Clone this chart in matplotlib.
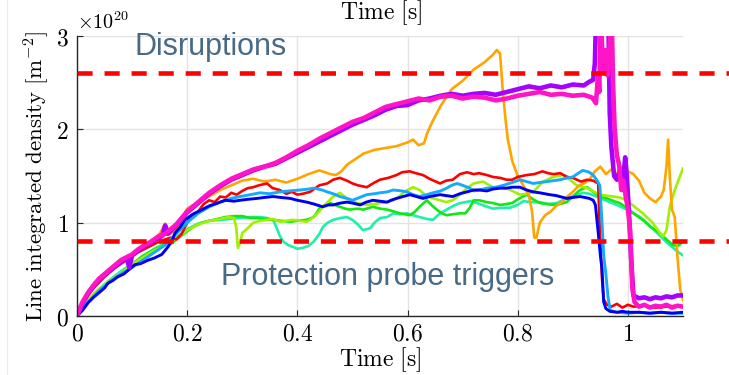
import matplotlib
matplotlib.use("Agg")
import matplotlib.pyplot as plt
from matplotlib.lines import Line2D

plt.rcParams['mathtext.fontset'] = 'cm'

# ---------------- data (line integrated density, units of 1e20 m^-2) ----------------
t_magenta = [0, 0.005, 0.01, 0.02, 0.03, 0.04, 0.05, 0.06, 0.07, 0.08, 0.09, 0.10, 0.11, 0.12, 0.13, 0.14,
             0.15, 0.16, 0.17, 0.18, 0.19, 0.20, 0.22, 0.24, 0.26, 0.28, 0.30, 0.32, 0.34, 0.36, 0.38, 0.40,
             0.42, 0.44, 0.46, 0.48, 0.50, 0.52, 0.54, 0.56, 0.58, 0.60, 0.62, 0.64, 0.66, 0.68, 0.70, 0.72,
             0.74, 0.76, 0.78, 0.80, 0.82, 0.84, 0.86, 0.88, 0.90, 0.92, 0.935, 0.942, 0.946, 0.948, 0.951,
             0.954, 0.957, 0.960, 0.963, 0.967, 0.970, 0.973, 0.976, 0.980, 0.984, 0.988, 0.992, 0.996, 1.0,
             1.004, 1.008, 1.012, 1.02, 1.03, 1.04, 1.05, 1.06, 1.07, 1.08, 1.09, 1.1]
y_magenta = [0, 0.08, 0.15, 0.25, 0.33, 0.40, 0.45, 0.50, 0.55, 0.60, 0.63, 0.66, 0.71, 0.75, 0.78, 0.82,
             0.86, 0.88, 0.93, 0.98, 1.05, 1.12, 1.22, 1.32, 1.40, 1.47, 1.52, 1.57, 1.60, 1.64, 1.70, 1.77,
             1.83, 1.90, 1.96, 2.02, 2.08, 2.12, 2.18, 2.24, 2.27, 2.30, 2.33, 2.31, 2.35, 2.36, 2.33, 2.35,
             2.34, 2.31, 2.33, 2.36, 2.38, 2.40, 2.37, 2.38, 2.36, 2.37, 2.34, 2.28, 2.60, 2.40, 3.30,
             2.70, 2.62, 2.85, 2.58, 2.90, 3.40, 2.50, 2.00, 1.72, 1.62, 1.35, 1.45, 1.28, 1.15,
             0.92, 0.30, 0.15, 0.10, 0.12, 0.09, 0.11, 0.10, 0.12, 0.09, 0.11, 0.10]

t_purple = [0, 0.01, 0.02, 0.04, 0.06, 0.08, 0.09, 0.095, 0.10, 0.12, 0.14, 0.155, 0.16, 0.165, 0.18, 0.20,
            0.22, 0.24, 0.26, 0.28, 0.30, 0.32, 0.34, 0.36, 0.38, 0.40, 0.42, 0.44, 0.46, 0.48, 0.50, 0.52,
            0.54, 0.56, 0.58, 0.60, 0.62, 0.64, 0.66, 0.68, 0.70, 0.72, 0.74, 0.76, 0.78, 0.80, 0.82, 0.84,
            0.86, 0.88, 0.90, 0.92, 0.93, 0.937, 0.940, 0.943, 0.955, 0.964, 0.967, 0.970, 0.975, 0.980,
            0.985, 0.990, 0.995, 0.998, 1.002, 1.006, 1.01, 1.02, 1.03, 1.04, 1.05, 1.06, 1.07, 1.08, 1.09, 1.1]
y_purple = [0, 0.14, 0.24, 0.39, 0.49, 0.58, 0.62, 0.52, 0.65, 0.74, 0.81, 0.86, 0.97, 0.88, 0.97, 1.11,
            1.21, 1.31, 1.39, 1.46, 1.51, 1.56, 1.60, 1.63, 1.69, 1.75, 1.81, 1.87, 1.93, 1.99, 2.05, 2.10,
            2.15, 2.21, 2.25, 2.26, 2.31, 2.33, 2.36, 2.38, 2.36, 2.38, 2.39, 2.37, 2.40, 2.43, 2.46, 2.44,
            2.47, 2.45, 2.48, 2.47, 2.51, 2.53, 2.71, 3.40, 3.50, 3.40, 2.18, 1.81, 1.50, 1.46,
            1.55, 1.35, 1.70, 1.50, 1.10, 0.60, 0.22, 0.19, 0.20, 0.18, 0.20, 0.19, 0.21, 0.20, 0.22, 0.22]

t_orange = [0, 0.01, 0.02, 0.03, 0.05, 0.07, 0.09, 0.11, 0.13, 0.15, 0.16, 0.17, 0.18, 0.19, 0.20, 0.22,
            0.24, 0.26, 0.28, 0.30, 0.32, 0.34, 0.36, 0.38, 0.40, 0.42, 0.44, 0.46, 0.47, 0.48, 0.49, 0.50,
            0.52, 0.54, 0.56, 0.58, 0.60, 0.61, 0.62, 0.63, 0.635, 0.645, 0.66, 0.68, 0.70, 0.72, 0.74,
            0.755, 0.762, 0.768, 0.773, 0.778, 0.782, 0.786, 0.79, 0.80, 0.81, 0.82, 0.826, 0.83, 0.834,
            0.84, 0.85, 0.86, 0.87, 0.88, 0.89, 0.90, 0.91, 0.92, 0.93, 0.94, 0.95, 0.96, 0.97, 0.98, 0.99,
            1.00, 1.01, 1.02, 1.03, 1.04, 1.05, 1.06, 1.065, 1.07, 1.073, 1.076, 1.08, 1.085, 1.09, 1.095, 1.1]
y_orange = [0, 0.12, 0.22, 0.30, 0.43, 0.54, 0.63, 0.70, 0.78, 0.88, 0.99, 0.88, 0.93, 1.04, 1.15, 1.22,
            1.28, 1.35, 1.40, 1.45, 1.47, 1.44, 1.46, 1.43, 1.47, 1.52, 1.56, 1.52, 1.51, 1.55, 1.62, 1.66,
            1.74, 1.78, 1.80, 1.82, 1.86, 1.89, 1.83, 1.85, 1.95, 2.08, 2.25, 2.43, 2.52, 2.64, 2.72,
            2.80, 2.85, 2.81, 2.40, 2.10, 1.89, 1.78, 1.66, 1.50, 1.40, 1.30, 1.12, 0.84, 0.84,
            1.00, 1.08, 1.12, 1.18, 1.22, 1.28, 1.33, 1.39, 1.42, 1.46, 1.55, 1.60, 1.52, 1.57, 1.52, 1.60,
            1.55, 1.52, 1.45, 1.32, 1.26, 1.22, 1.28, 1.35, 1.60, 1.89, 1.50, 1.14, 1.06, 0.63, 0.28, 0.17]

t_red = [0, 0.01, 0.02, 0.03, 0.05, 0.07, 0.09, 0.11, 0.13, 0.15, 0.17, 0.18, 0.19, 0.20, 0.21, 0.22, 0.23,
         0.24, 0.25, 0.26, 0.27, 0.28, 0.29, 0.30, 0.31, 0.32, 0.33, 0.345, 0.355, 0.368, 0.38, 0.39, 0.40,
         0.41, 0.423, 0.44, 0.454, 0.465, 0.477, 0.49, 0.50, 0.51, 0.526, 0.54, 0.55, 0.565, 0.58, 0.59,
         0.604, 0.615, 0.628, 0.64, 0.659, 0.67, 0.682, 0.695, 0.708, 0.72, 0.73, 0.744, 0.755, 0.768, 0.78,
         0.79, 0.80, 0.816, 0.83, 0.845, 0.855, 0.865, 0.877, 0.89, 0.90, 0.915, 0.926, 0.937, 0.946, 0.949,
         0.953, 0.956, 0.962, 0.97, 0.98, 0.99, 1.0, 1.01, 1.03, 1.05, 1.07, 1.09, 1.1]
y_red = [0, 0.12, 0.22, 0.30, 0.42, 0.52, 0.60, 0.68, 0.74, 0.80, 0.84, 0.82, 0.88, 1.00, 1.08, 1.12, 1.20,
         1.24, 1.22, 1.28, 1.27, 1.32, 1.30, 1.34, 1.37, 1.38, 1.40, 1.42, 1.37, 1.35, 1.31, 1.33, 1.30,
         1.31, 1.33, 1.40, 1.42, 1.46, 1.48, 1.45, 1.42, 1.40, 1.38, 1.43, 1.46, 1.48, 1.51, 1.54,
         1.55, 1.53, 1.51, 1.47, 1.42, 1.45, 1.46, 1.52, 1.54, 1.52, 1.53, 1.51, 1.49, 1.48, 1.46,
         1.46, 1.49, 1.51, 1.52, 1.55, 1.53, 1.52, 1.53, 1.49, 1.48, 1.44, 1.46, 1.45, 1.42, 0.92,
         0.40, 0.18, 0.12, 0.10, 0.13, 0.09, 0.12, 0.10, 0.11, 0.09, 0.10, 0.11, 0.10]

t_cyan = [0, 0.01, 0.02, 0.04, 0.06, 0.08, 0.10, 0.12, 0.14, 0.16, 0.18, 0.20, 0.22, 0.24, 0.26, 0.28, 0.296,
          0.315, 0.332, 0.35, 0.368, 0.385, 0.405, 0.42, 0.43, 0.445, 0.454, 0.465, 0.477, 0.49, 0.50, 0.513,
          0.526, 0.54, 0.55, 0.563, 0.574, 0.59, 0.599, 0.61, 0.622, 0.635, 0.646, 0.66, 0.671, 0.68, 0.69,
          0.70, 0.713, 0.72, 0.73, 0.744, 0.76, 0.774, 0.79, 0.804, 0.816, 0.828, 0.84, 0.853, 0.865, 0.877,
          0.89, 0.90, 0.91, 0.918, 0.925, 0.93, 0.937, 0.943, 0.949, 0.953, 0.956, 0.96, 0.964, 0.968, 0.98,
          1.0, 1.02, 1.04, 1.06, 1.08, 1.1]
y_cyan = [0, 0.08, 0.15, 0.27, 0.37, 0.45, 0.52, 0.60, 0.68, 0.76, 0.88, 1.00, 1.10, 1.17, 1.22, 1.26, 1.28,
          1.30, 1.32, 1.31, 1.33, 1.34, 1.35, 1.36, 1.37, 1.35, 1.33, 1.31, 1.28, 1.26, 1.24, 1.27,
          1.30, 1.31, 1.32, 1.33, 1.35, 1.34, 1.33, 1.30, 1.28, 1.30, 1.32, 1.34, 1.37, 1.40, 1.42,
          1.40, 1.37, 1.34, 1.35, 1.37, 1.38, 1.40, 1.43, 1.46, 1.44, 1.42, 1.43, 1.44, 1.45, 1.46,
          1.48, 1.49, 1.53, 1.56, 1.55, 1.54, 1.51, 1.46, 1.40, 1.00, 0.65, 0.45, 0.20, 0.06, 0.04,
          0.03, 0.04, 0.03, 0.04, 0.03, 0.03]

t_blue = [0, 0.005, 0.01, 0.02, 0.03, 0.04, 0.05, 0.056, 0.065, 0.074, 0.085, 0.095, 0.105, 0.115, 0.13, 0.14,
          0.154, 0.165, 0.172, 0.178, 0.187, 0.196, 0.21, 0.227, 0.24, 0.255, 0.269, 0.285, 0.296, 0.31, 0.327,
          0.34, 0.356, 0.37, 0.387, 0.40, 0.417, 0.43, 0.446, 0.456, 0.465, 0.478, 0.49, 0.50, 0.514, 0.525,
          0.537, 0.55, 0.563, 0.57, 0.58, 0.592, 0.604, 0.616, 0.628, 0.64, 0.659, 0.67, 0.682, 0.695, 0.708,
          0.72, 0.73, 0.744, 0.755, 0.768, 0.78, 0.79, 0.804, 0.816, 0.828, 0.84, 0.858, 0.87, 0.889, 0.90,
          0.913, 0.93, 0.937, 0.941, 0.946, 0.95, 0.953, 0.956, 0.96, 0.967, 0.98, 0.99, 1.0, 1.02, 1.04,
          1.06, 1.08, 1.1]
y_blue = [0, 0.03, 0.06, 0.14, 0.20, 0.25, 0.30, 0.35, 0.38, 0.42, 0.45, 0.50, 0.55, 0.56, 0.60, 0.62,
          0.66, 0.74, 0.80, 0.89, 0.95, 1.03, 1.09, 1.14, 1.18, 1.21, 1.24, 1.23, 1.24, 1.25, 1.26,
          1.27, 1.28, 1.27, 1.26, 1.24, 1.22, 1.20, 1.17, 1.19, 1.19, 1.21, 1.22, 1.21, 1.19, 1.22,
          1.24, 1.23, 1.22, 1.24, 1.26, 1.28, 1.30, 1.28, 1.26, 1.28, 1.30, 1.29, 1.28, 1.31, 1.33,
          1.35, 1.35, 1.34, 1.36, 1.37, 1.37, 1.38, 1.38, 1.35, 1.33, 1.32, 1.30, 1.29, 1.26, 1.27,
          1.28, 1.26, 1.24, 1.19, 0.90, 0.65, 0.50, 0.15, 0.08, 0.05, 0.04, 0.05, 0.04, 0.04, 0.03,
          0.04, 0.03, 0.04]

t_green = [0, 0.01, 0.02, 0.04, 0.06, 0.08, 0.10, 0.118, 0.13, 0.147, 0.16, 0.172, 0.185, 0.196, 0.21, 0.227,
           0.24, 0.255, 0.269, 0.285, 0.30, 0.315, 0.327, 0.34, 0.356, 0.37, 0.387, 0.40, 0.417, 0.43, 0.44,
           0.45, 0.459, 0.468, 0.477, 0.487, 0.495, 0.51, 0.52, 0.537, 0.55, 0.563, 0.575, 0.586, 0.595, 0.604,
           0.612, 0.622, 0.635, 0.645, 0.653, 0.662, 0.671, 0.682, 0.695, 0.705, 0.713, 0.72, 0.73, 0.744,
           0.755, 0.768, 0.78, 0.79, 0.80, 0.816, 0.828, 0.84, 0.853, 0.864, 0.877, 0.889, 0.90, 0.913, 0.926,
           0.937, 0.95, 0.962, 0.975, 0.985, 0.998, 1.01, 1.027, 1.04, 1.058, 1.07, 1.082, 1.09, 1.095, 1.1]
y_green = [0, 0.09, 0.16, 0.28, 0.37, 0.45, 0.55, 0.64, 0.68, 0.73, 0.77, 0.78, 0.84, 0.89, 0.95, 1.00,
           1.02, 1.04, 1.06, 1.07, 1.07, 1.05, 1.05, 1.04, 1.03, 1.02, 1.01, 1.02, 1.03, 1.06, 1.15,
           1.19, 1.21, 1.19, 1.17, 1.15, 1.14, 1.15, 1.14, 1.17, 1.15, 1.14, 1.12, 1.10, 1.09, 1.08,
           1.11, 1.17, 1.24, 1.18, 1.14, 1.10, 1.08, 1.09, 1.10, 1.10, 1.16, 1.24, 1.24, 1.22,
           1.21, 1.19, 1.20, 1.21, 1.25, 1.30, 1.25, 1.21, 1.20, 1.19, 1.20, 1.22, 1.28, 1.35, 1.38,
           1.33, 1.28, 1.26, 1.23, 1.21, 1.16, 1.10, 1.03, 0.96, 0.89, 0.82, 0.76, 0.75, 0.77, 0.80]

t_aqua = [0, 0.01, 0.02, 0.04, 0.06, 0.08, 0.10, 0.12, 0.14, 0.16, 0.18, 0.20, 0.22, 0.24, 0.26, 0.28, 0.296,
          0.315, 0.332, 0.345, 0.356, 0.362, 0.368, 0.374, 0.383, 0.392, 0.40, 0.41, 0.42, 0.43, 0.44, 0.446,
          0.455, 0.465, 0.478, 0.49, 0.50, 0.51, 0.519, 0.532, 0.54, 0.55, 0.563, 0.574, 0.586, 0.599, 0.61,
          0.622, 0.635, 0.646, 0.659, 0.671, 0.683, 0.695, 0.705, 0.713, 0.726, 0.74, 0.755, 0.77, 0.786, 0.80,
          0.81, 0.825, 0.84, 0.855, 0.871, 0.885, 0.90, 0.918, 0.93, 0.943, 0.955, 0.967, 0.98, 0.998, 1.01,
          1.022, 1.034, 1.046, 1.058, 1.07, 1.082, 1.09, 1.1]
y_aqua = [0, 0.09, 0.17, 0.29, 0.39, 0.48, 0.56, 0.64, 0.72, 0.78, 0.84, 0.93, 0.99, 1.02, 1.03, 1.04, 1.05,
          1.06, 1.06, 1.05, 1.03, 0.95, 0.86, 0.80, 0.76, 0.74, 0.72, 0.73, 0.75, 0.80, 0.88, 0.95,
          1.00, 1.03, 1.05, 1.06, 1.03, 0.98, 0.92, 0.94, 1.00, 1.05, 1.06, 1.10, 1.09, 1.10, 1.08,
          1.06, 1.04, 1.03, 1.10, 1.14, 1.18, 1.21, 1.22, 1.23, 1.21, 1.18, 1.15, 1.16, 1.16, 1.19,
          1.23, 1.22, 1.22, 1.20, 1.21, 1.25, 1.28, 1.32, 1.31, 1.28, 1.25, 1.22, 1.19, 1.14, 1.10,
          1.06, 1.00, 0.93, 0.86, 0.79, 0.73, 0.69, 0.65]

t_ygreen = [0, 0.01, 0.02, 0.04, 0.06, 0.08, 0.10, 0.12, 0.14, 0.16, 0.18, 0.20, 0.22, 0.24, 0.26, 0.275,
            0.285, 0.289, 0.292, 0.296, 0.30, 0.308, 0.32, 0.333, 0.345, 0.356, 0.368, 0.38, 0.392, 0.405,
            0.417, 0.43, 0.44, 0.446, 0.455, 0.465, 0.477, 0.49, 0.50, 0.508, 0.526, 0.54, 0.55, 0.562, 0.574,
            0.585, 0.592, 0.60, 0.61, 0.622, 0.635, 0.647, 0.659, 0.67, 0.682, 0.695, 0.708, 0.72, 0.737,
            0.755, 0.78, 0.804, 0.816, 0.828, 0.846, 0.864, 0.882, 0.895, 0.907, 0.926, 0.949, 0.973, 0.985,
            0.998, 1.01, 1.027, 1.045, 1.058, 1.064, 1.07, 1.076, 1.085, 1.094, 1.1]
y_ygreen = [0, 0.09, 0.17, 0.29, 0.38, 0.46, 0.55, 0.63, 0.70, 0.76, 0.83, 0.92, 0.98, 1.02, 1.04, 1.06,
            1.05, 0.95, 0.73, 0.78, 0.89, 0.93, 1.00, 1.02, 1.03, 1.04, 1.01, 1.02, 1.03, 1.02,
            1.01, 1.06, 1.12, 1.17, 1.22, 1.28, 1.32, 1.26, 1.23, 1.21, 1.19, 1.20, 1.21, 1.22, 1.24,
            1.28, 1.32, 1.35, 1.38, 1.35, 1.28, 1.26, 1.24, 1.22, 1.24, 1.30, 1.37, 1.42, 1.44,
            1.38, 1.37, 1.30, 1.31, 1.33, 1.44, 1.49, 1.51, 1.46, 1.40, 1.37, 1.30, 1.28, 1.27,
            1.24, 1.18, 1.10, 1.00, 0.89, 0.85, 0.92, 1.17, 1.35, 1.49, 1.58]

disruption_level = 2.6
probe_level = 0.8

xticks = [0, 0.2, 0.4, 0.6, 0.8, 1.0]
xtick_labels = ['0', '0.2', '0.4', '0.6', '0.8', '1']
yticks = [0, 1, 2, 3]
ytick_labels = ['0', '1', '2', '3']

series = [
    (t_aqua, y_aqua, '#1ef0a8', 1.9),
    (t_green, y_green, '#14e614', 1.9),
    (t_ygreen, y_ygreen, '#a0f000', 1.9),
    (t_orange, y_orange, '#ffa500', 1.9),
    (t_red, y_red, '#ff0000', 1.9),
    (t_cyan, y_cyan, '#14aaff', 2.1),
    (t_blue, y_blue, '#0000f0', 2.1),
    (t_purple, y_purple, '#a600ff', 3.3),
    (t_magenta, y_magenta, '#ff14c8', 3.3),
]

# ---------------- figure ----------------
fig = plt.figure(figsize=(7.29, 3.75), dpi=100)
ax = fig.add_axes([77/729, (375-316)/375, (683-77)/729, (316-36)/375])

for t, y, c, lw in series:
    ax.plot(t, y, color=c, lw=lw, solid_joinstyle='round')

for lvl in (disruption_level, probe_level):
    ax.plot([0, 1.19], [lvl, lvl], color='#ff0000', lw=3.3, dashes=(3.3, 2.6),
            clip_on=False, zorder=5, solid_capstyle='butt', dash_capstyle='butt')

ax.set_xlim(0, 1.1)
ax.set_ylim(0, 3)
ax.set_xticks(xticks)
ax.set_xticklabels(['$' + s + '$' for s in xtick_labels], fontsize=17)
ax.set_yticks(yticks)
ax.set_yticklabels(['$' + s + '$' for s in ytick_labels], fontsize=17)
ax.tick_params(direction='in', length=4, width=0.8, color='#262626', pad=6)
ax.tick_params(axis='x', pad=4)
ax.grid(True, color='#e3e3e3', lw=1.0)
ax.set_axisbelow(True)
for s in ('top', 'right'):
    ax.spines[s].set_visible(False)
for s in ('left', 'bottom'):
    ax.spines[s].set_color('#262626')
    ax.spines[s].set_linewidth(1.0)

ax.set_ylabel(r'$\mathrm{Line\ integrated\ density\ [m^{-2}]}$', fontsize=16.5, labelpad=3)
ax.text(0.0, 1.01, r'$\times 10^{20}$', transform=ax.transAxes, fontsize=14.5, ha='left', va='bottom')

fig.text(380/729, 1 - 360/375, r'$\mathrm{Time\ [s]}$', fontsize=17, ha='center', va='center')
fig.text(381/729, 1 - 13/375, r'$\mathrm{Time\ [s]}$', fontsize=17, ha='center', va='center')

txt_color = '#476a87'
ax.text(211/729, 1 - 47/375, 'Disruptions', transform=fig.transFigure, fontsize=22,
        family='Liberation Sans', color=txt_color, ha='center', va='center', zorder=6)
ax.text(388/729, 1 - 277/375, 'Protection probe triggers', transform=fig.transFigure, fontsize=22,
        family='Liberation Sans', color=txt_color, ha='center', va='center', zorder=6)

fig.add_artist(Line2D([7/729, 7/729], [0, 1], color='#ececec', lw=0.8))

fig.savefig('out.png', dpi=100)
